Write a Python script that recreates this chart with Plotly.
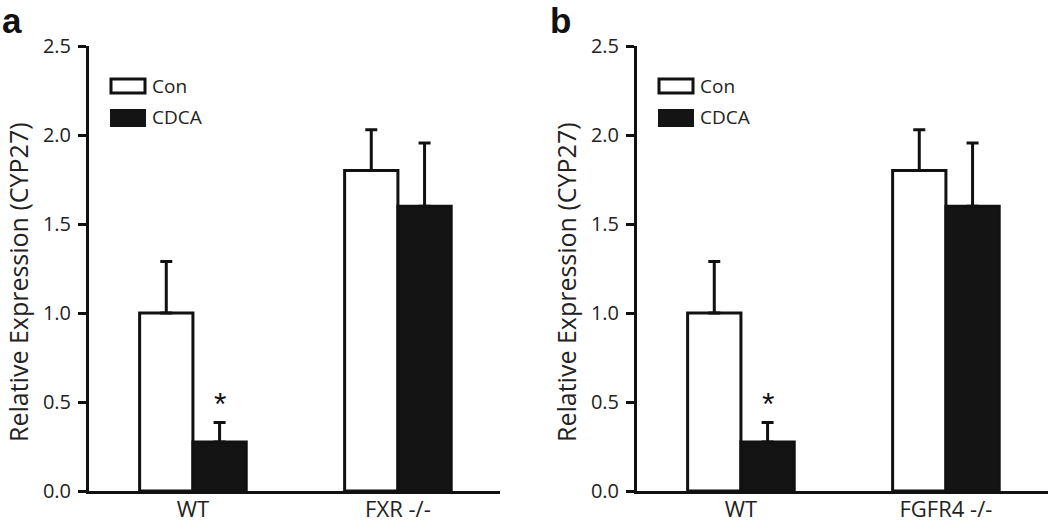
import plotly.graph_objects as go

# ---- data ----
groups_a = ["WT", "FXR -/-"]
groups_b = ["WT", "FGFR4 -/-"]
con_mean = [1.0, 1.80]
con_err = [0.29, 0.23]
cdca_mean = [0.275, 1.60]
cdca_err = [0.11, 0.355]
series_names = ["Con", "CDCA"]
y_ticks = [0.0, 0.5, 1.0, 1.5, 2.0, 2.5]
panel_labels = ["a", "b"]
y_title = "Relative Expression (CYP27)"

W, H = 1050, 528
FONT = "Open Sans"
def px_x(x):
    return x / W
def px_y(y):
    return 1 - y / H

fig = go.Figure()

panels = [(groups_a, "x", "y"), (groups_b, "x2", "y2")]
for groups, xa, ya in panels:
    fig.add_trace(go.Bar(
        x=groups, y=con_mean, name=series_names[0], xaxis=xa, yaxis=ya,
        marker=dict(color="white", line=dict(color="#111", width=3)),
        error_y=dict(type="data", symmetric=False, array=con_err,
                     arrayminus=[0] * len(con_err), color="#111",
                     thickness=3, width=6),
        showlegend=False))
    fig.add_trace(go.Bar(
        x=groups, y=cdca_mean, name=series_names[1], xaxis=xa, yaxis=ya,
        marker=dict(color="#141414", line=dict(color="#111", width=3)),
        error_y=dict(type="data", symmetric=False, array=cdca_err,
                     arrayminus=[0] * len(cdca_err), color="#111",
                     thickness=3, width=6),
        showlegend=False))

ydom = [px_y(491), px_y(46)]
axis_common_y = dict(range=[0, 2.5], domain=ydom, showline=True, linewidth=3,
                     linecolor="#111", ticks="outside", ticklen=8, tickwidth=3,
                     tickcolor="#111", tickvals=y_ticks, tickformat=".1f",
                     showgrid=False, zeroline=False, automargin=False,
                     ticklabelstandoff=3,
                     tickfont=dict(family=FONT, size=20, color="#222"))
axis_common_x = dict(range=[-0.507, 1.498], showline=True, linewidth=3,
                     linecolor="#111", ticks="", showgrid=False, automargin=False,
                     ticklabelstandoff=-3,
                     tickfont=dict(family=FONT, size=22, color="#222"))

fig.update_layout(
    width=W, height=H, margin=dict(l=0, r=0, t=0, b=0, pad=0, autoexpand=False),
    paper_bgcolor="white", plot_bgcolor="white", showlegend=False,
    barmode="group", bargap=0.48, bargroupgap=0,
    xaxis=dict(domain=[px_x(89), px_x(500)], anchor="y", **axis_common_x),
    yaxis=dict(anchor="x", **axis_common_y),
    xaxis2=dict(domain=[px_x(637), px_x(1048)], anchor="y2", **axis_common_x),
    yaxis2=dict(anchor="x2", **axis_common_y),
)

# legends, titles, panel labels, significance marks
offsets = [0, 548]
for i, off in enumerate(offsets):
    xr = "x" if i == 0 else "x2"
    yr = "y" if i == 0 else "y2"
    # legend boxes
    fig.add_shape(type="rect", xref="paper", yref="paper",
                  x0=px_x(111 + off), x1=px_x(145 + off), y0=px_y(93), y1=px_y(79),
                  fillcolor="white", line=dict(color="#111", width=3))
    fig.add_shape(type="rect", xref="paper", yref="paper",
                  x0=px_x(110 + off), x1=px_x(146 + off), y0=px_y(127), y1=px_y(109),
                  fillcolor="#141414", line=dict(color="#141414", width=0))
    fig.add_annotation(xref="paper", yref="paper", x=px_x(150 + off), y=px_y(86),
                       text=series_names[0], showarrow=False, xanchor="left",
                       yanchor="middle", font=dict(family=FONT, size=19, color="#222"))
    fig.add_annotation(xref="paper", yref="paper", x=px_x(150 + off), y=px_y(117),
                       text=series_names[1], showarrow=False, xanchor="left",
                       yanchor="middle", font=dict(family=FONT, size=19, color="#222"))
    # y title
    fig.add_annotation(xref="paper", yref="paper", x=px_x(0 + off), y=px_y(282),
                       text=y_title, textangle=-90, showarrow=False,
                       xanchor="left", yanchor="middle", borderpad=0,
                       font=dict(family=FONT, size=25, color="#222"))
    # panel label
    fig.add_annotation(xref="paper", yref="paper", x=px_x(0 + off), y=px_y(-1),
                       text="<b>%s</b>" % panel_labels[i], showarrow=False,
                       xanchor="left", yanchor="top",
                       font=dict(family="Liberation Sans", size=35, color="#111"))
    # asterisk above WT CDCA bar
    fig.add_annotation(xref=xr, yref=yr, x=0.13, y=cdca_mean[0] + cdca_err[0],
                       text="*", showarrow=False, xanchor="center", yanchor="bottom",
                       yshift=-2,
                       font=dict(family="Liberation Sans", size=32, color="#111"))

fig.write_html("out.html", config={"displayModeBar": False},
               post_script="document.body.style.margin='0px';")
